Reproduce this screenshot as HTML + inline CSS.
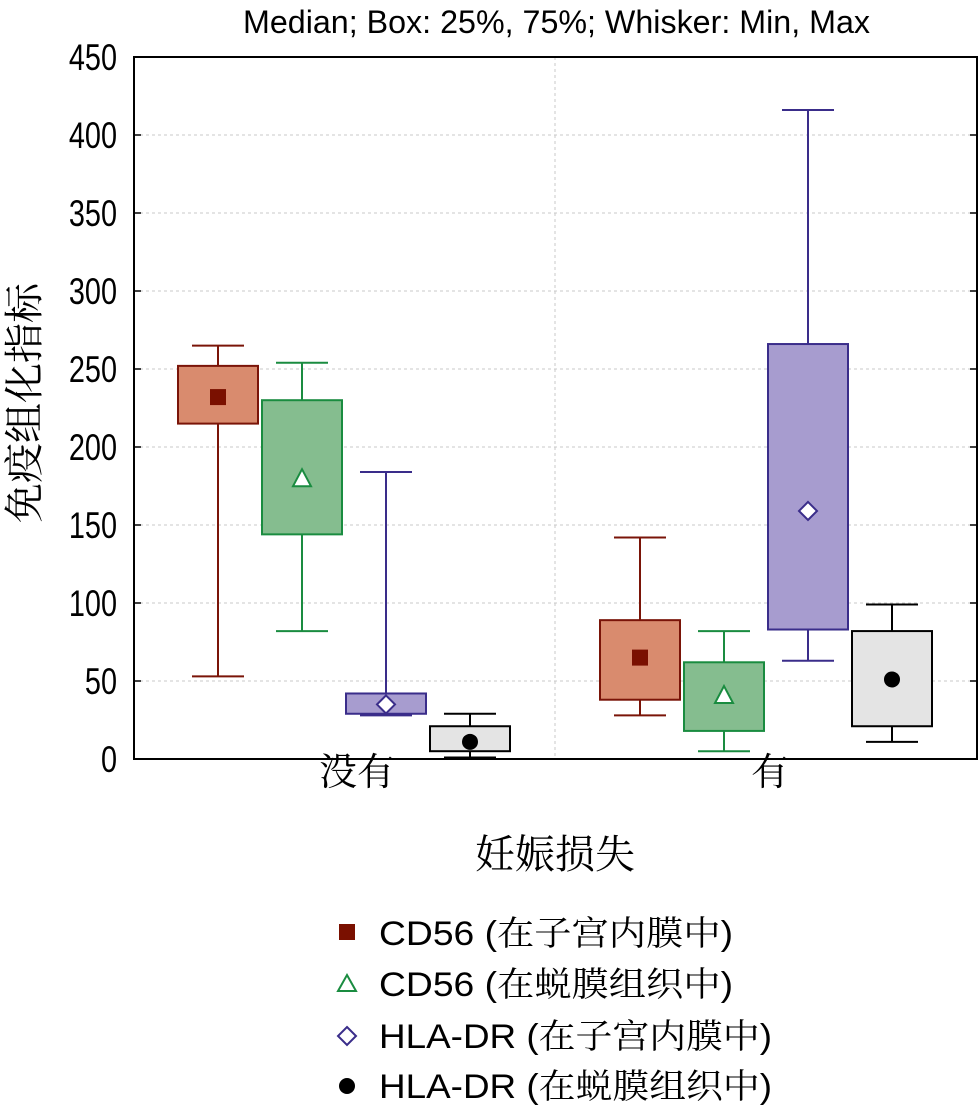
<!DOCTYPE html>
<html><head><meta charset="utf-8"><style>
body{margin:0;background:#fff;}
svg text{font-family:"Liberation Sans","Noto Sans CJK SC",sans-serif;}
.cjk{font-family:"Liberation Sans","Noto Serif CJK SC",serif;}
</style></head><body>
<svg id="chart" width="980" height="1114" viewBox="0 0 980 1114" xmlns="http://www.w3.org/2000/svg">
<text x="243" y="33" font-size="32" textLength="627" lengthAdjust="spacingAndGlyphs">Median; Box: 25%, 75%; Whisker: Min, Max</text>
<g id="grid"></g>
<g id="marks"></g>
<rect x="134" y="57" width="843" height="702" fill="none" stroke="#000" stroke-width="2"/>
<g id="yticks"></g>
<text class="cjk" x="357" y="785" font-size="38" text-anchor="middle">没有</text>
<text class="cjk" x="770" y="785" font-size="38" text-anchor="middle">有</text>
<text class="cjk" x="555" y="868" font-size="40" text-anchor="middle">妊娠损失</text>
<text class="cjk" transform="translate(38,403) rotate(-90)" font-size="40" text-anchor="middle">免疫组化指标</text>
<g>
 <rect x="339" y="924" width="16" height="16" fill="#7a1000"/>
 <text class="cjk" x="379" y="945" font-size="34" textLength="354" lengthAdjust="spacingAndGlyphs">CD56 (在子宫内膜中)</text>
 <polygon points="347,975 356,991 338,991" fill="#fff" stroke="#1a8c40" stroke-width="2"/>
 <text class="cjk" x="379" y="996" font-size="34" textLength="354" lengthAdjust="spacingAndGlyphs">CD56 (在蜕膜组织中)</text>
 <polygon points="347,1027 356,1036 347,1045 338,1036" fill="#fff" stroke="#3a2d8a" stroke-width="2"/>
 <text class="cjk" x="379" y="1048" font-size="34" textLength="393" lengthAdjust="spacingAndGlyphs">HLA-DR (在子宫内膜中)</text>
 <circle cx="347" cy="1086" r="8" fill="#000"/>
 <text class="cjk" x="379" y="1098" font-size="34" textLength="393" lengthAdjust="spacingAndGlyphs">HLA-DR (在蜕膜组织中)</text>
</g>
</svg>
<script>
const yTicks=[0,50,100,150,200,250,300,350,400,450];
const groups=["没有","有"];
const seriesNames=["CD56-endometrium","CD56-decidua","HLA-DR-endometrium","HLA-DR-decidua"];
const mins=[[53,82,28,1],[28,5,63,11]];
const q1s=[[215,144,29,5],[38,18,83,21]];
const medians=[[232,180,35,11],[65,41,159,51]];
const q3s=[[252,230,42,21],[89,62,266,82]];
const maxs=[[265,254,184,29],[142,82,416,99]];

const NS="http://www.w3.org/2000/svg";
const y=v=>759-v*702/450;
const groupCenter=g=>344+g*422;
const seriesX=(g,s)=>groupCenter(g)+(s-1.5)*84;
const fills=["#d98b6e","#85bd8f","#a79ccf","#e4e4e4"];
const strokes=["#7a1408","#1a8c40","#3a2d8a","#000"];
function mk(tag,attrs,parent){const e=document.createElementNS(NS,tag);for(const k in attrs)e.setAttribute(k,attrs[k]);parent.appendChild(e);return e;}
const grid=document.getElementById('grid'),marks=document.getElementById('marks'),yt=document.getElementById('yticks');
yTicks.forEach(t=>{
  if(t>0&&t<450){const l=mk('line',{x1:134,x2:977,y1:y(t),y2:y(t),stroke:'#c8c8c8','stroke-width':1,'stroke-dasharray':'3,3'},grid);
  
  }
  const a=mk('line',{x1:134,x2:141,y1:y(t),y2:y(t),stroke:'#000','stroke-width':1.5},yt);
  
  
  const b=mk('line',{x1:970,x2:977,y1:y(t),y2:y(t),stroke:'#000','stroke-width':1.5},yt);
  
  
  const tx=mk('text',{transform:`translate(117,${y(t)+13}) scale(0.78,1)`,'font-size':37,'text-anchor':'end'},yt);
  tx.textContent=t;
  
  
});
const vl=mk('line',{x1:555,x2:555,y1:57,y2:759,stroke:'#c8c8c8','stroke-width':1,'stroke-dasharray':'3,3'},grid);


groups.forEach((gname,g)=>{
  seriesNames.forEach((sn,s)=>{
    const cx=seriesX(g,s),st=strokes[s];
    const grp=mk('g',{},marks);
    
    
    mk('line',{x1:cx,x2:cx,y1:y(maxs[g][s]),y2:y(mins[g][s]),stroke:st,'stroke-width':2},grp);
    mk('line',{x1:cx-26,x2:cx+26,y1:y(maxs[g][s]),y2:y(maxs[g][s]),stroke:st,'stroke-width':2},grp);
    mk('line',{x1:cx-26,x2:cx+26,y1:y(mins[g][s]),y2:y(mins[g][s]),stroke:st,'stroke-width':2},grp);
    mk('rect',{x:cx-40,y:y(q3s[g][s]),width:80,height:y(q1s[g][s])-y(q3s[g][s]),fill:fills[s],stroke:st,'stroke-width':2},grp);
    const my=y(medians[g][s]);
    if(s===0)mk('rect',{x:cx-8,y:my-8,width:16,height:16,fill:'#7a1000'},grp);
    else if(s===1)mk('polygon',{points:`${cx},${my-9} ${cx+9},${my+8} ${cx-9},${my+8}`,fill:'#fff',stroke:st,'stroke-width':2},grp);
    else if(s===2)mk('polygon',{points:`${cx},${my-9} ${cx+9},${my} ${cx},${my+9} ${cx-9},${my}`,fill:'#fff',stroke:st,'stroke-width':2},grp);
    else mk('circle',{cx:cx,cy:my,r:8,fill:'#000'},grp);
  });
});
</script>
</body></html>
